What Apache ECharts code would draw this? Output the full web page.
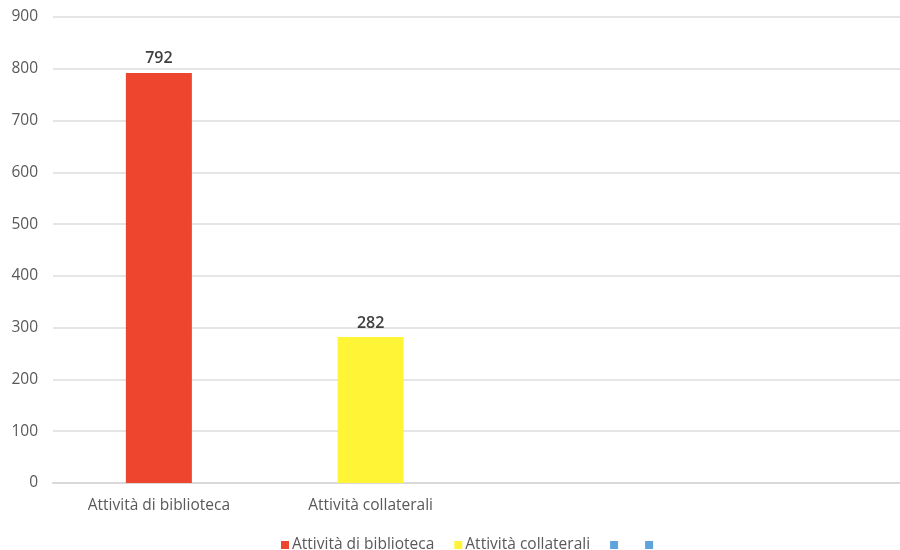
<!DOCTYPE html>
<html>
<head>
<meta charset="utf-8">
<script src="https://cdn.jsdelivr.net/npm/echarts@6/dist/echarts.min.js"></script>
<style>html,body{margin:0;padding:0;background:#fff}#c{width:900px;height:550px}</style>
</head>
<body>
<div id="c"></div>
<script>
const categories = ['Attività di biblioteca', 'Attività collaterali', ' ', '  '];
const seriesNames = ['Attività di biblioteca', 'Attività collaterali', ' ', '  '];
const seriesValues = [
  [792, '-', '-', '-'],
  ['-', 282, '-', '-'],
  ['-', '-', '-', '-'],
  ['-', '-', '-', '-']
];
const colors = ['#EE452F', '#FFF536', '#5FA3DD', '#5FA3DD'];
const yTicks = { min: 0, max: 900, interval: 100 };

const chart = echarts.init(document.getElementById('c'));
const font = '"Open Sans", sans-serif';
chart.setOption({
  animation: false,
  textStyle: { fontFamily: font },
  grid: { left: 53, top: 17, width: 856, height: 466, containLabel: false },
  xAxis: {
    type: 'category',
    data: categories,
    axisLine: { lineStyle: { color: '#D9D9D9', width: 2 } },
    axisTick: { show: false },
    axisLabel: { color: '#595959', fontSize: 15.5, margin: 15, fontFamily: font }
  },
  yAxis: {
    type: 'value',
    min: yTicks.min, max: yTicks.max, interval: yTicks.interval,
    axisLine: { show: false },
    axisTick: { show: false },
    axisLabel: { color: '#595959', fontSize: 15.5, margin: 15, fontFamily: font },
    splitLine: { lineStyle: { color: '#E5E5E5', width: 2 } }
  },
  legend: {
    top: 532,
    left: 276,
    icon: 'rect',
    itemWidth: 8, itemHeight: 8, itemGap: 20,
    textStyle: { color: '#595959', fontSize: 15.5, fontFamily: font, padding: [0, 0, 0, -2] },
    data: seriesNames
  },
  series: seriesNames.map((n, i) => ({
    name: n,
    type: 'bar',
    stack: 'all',
    barWidth: 66,
    data: seriesValues[i],
    itemStyle: { color: colors[i] },
    label: { show: true, position: 'top', color: '#404040', fontSize: 16, fontWeight: 600, distance: 6, fontFamily: font }
  }))
});
</script>
</body>
</html>
